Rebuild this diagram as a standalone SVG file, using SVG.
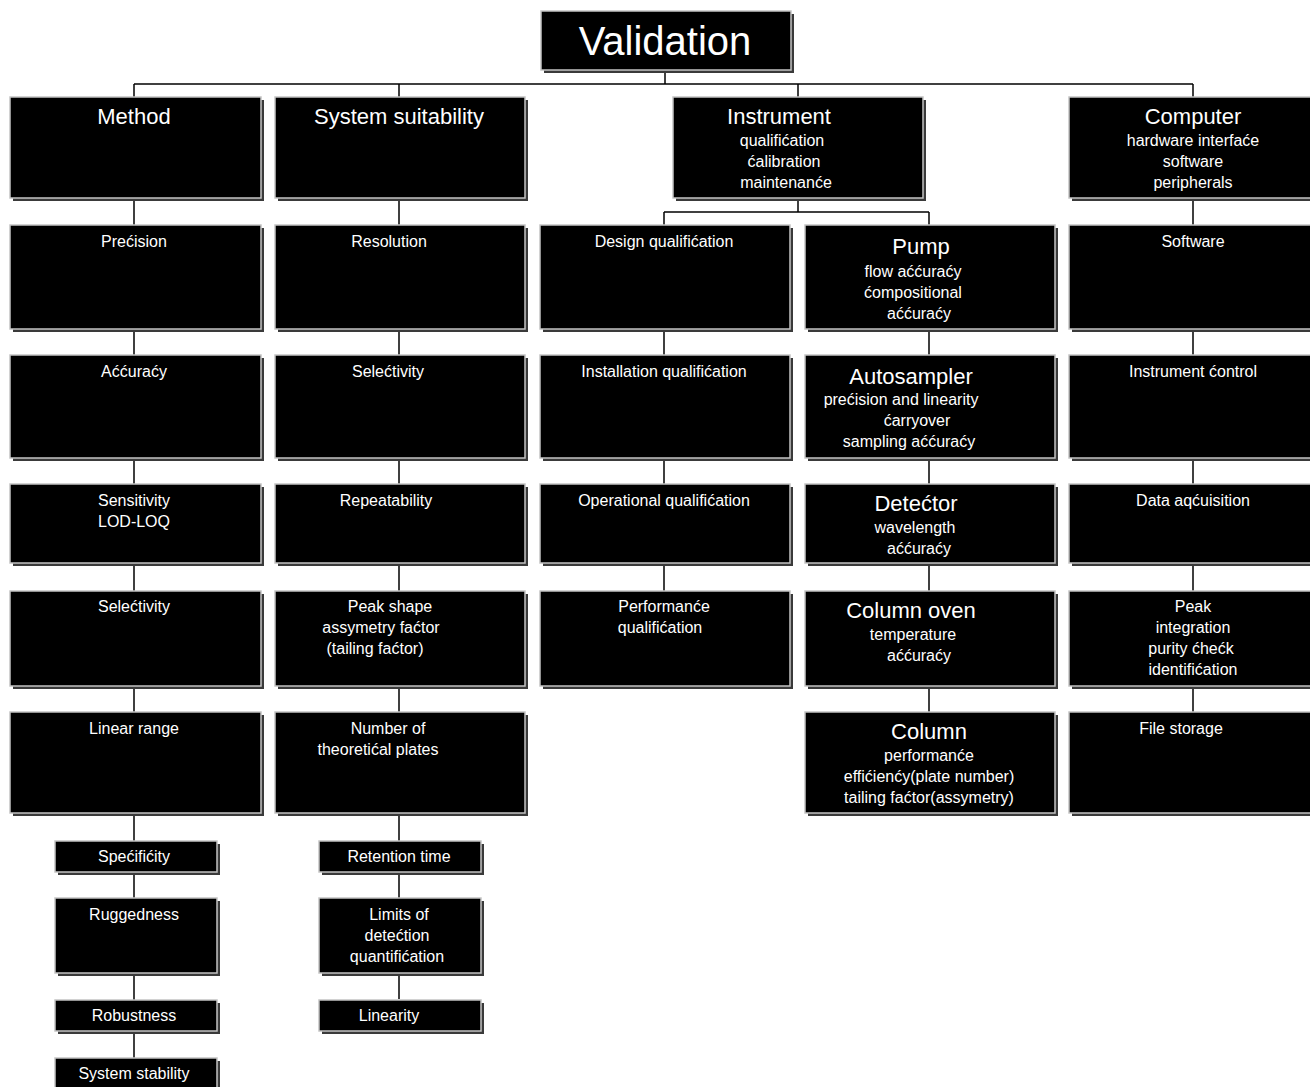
<svg xmlns="http://www.w3.org/2000/svg" width="1310" height="1087" viewBox="0 0 1310 1087">
<style>
.sh{fill:#3a3a3a}
.bx{fill:#000;stroke:#c4c4c4;stroke-width:1.5}
text{font-family:"Liberation Sans",Arial,Helvetica,sans-serif;fill:#fff;text-anchor:middle}
.t{font-size:16px}
.h{font-size:22px}
.v{font-size:40px}
.c line,.c polyline{stroke:#000;stroke-width:1.5;fill:none}
</style>
<rect width="1310" height="1087" fill="#fff"/>
<g class="c" id="connectors">
<line x1="665" y1="70" x2="665" y2="84"/>
<line x1="134" y1="84" x2="1193" y2="84"/>
<line x1="134" y1="84" x2="134" y2="97"/>
<line x1="399" y1="84" x2="399" y2="97"/>
<line x1="798" y1="84" x2="798" y2="97"/>
<line x1="1193" y1="84" x2="1193" y2="97"/>
<line x1="798" y1="198" x2="798" y2="212"/>
<line x1="664" y1="212" x2="929" y2="212"/>
<line x1="664" y1="212" x2="664" y2="225"/>
<line x1="929" y1="212" x2="929" y2="225"/>
<line x1="134" y1="198" x2="134" y2="1058"/>
<line x1="399" y1="198" x2="399" y2="999"/>
<line x1="664" y1="329" x2="664" y2="591"/>
<line x1="929" y1="329" x2="929" y2="712"/>
<line x1="1193" y1="198" x2="1193" y2="712"/>
</g>
<g id="validation"><rect class="sh" x="544" y="14" width="250" height="59"/><rect class="bx" x="541" y="11" width="250" height="59"/><text class="v" x="665" y="55">Validation</text></g>
<g id="method"><rect class="sh" x="13" y="100" width="251" height="101"/><rect class="bx" x="10" y="97" width="251" height="101"/><text class="h" x="134" y="124">Method</text></g>
<g id="system-suitability"><rect class="sh" x="278" y="100" width="250" height="101"/><rect class="bx" x="275" y="97" width="250" height="101"/><text class="h" x="399" y="124">System suitability</text></g>
<g id="instrument"><rect class="sh" x="676" y="100" width="250" height="101"/><rect class="bx" x="673" y="97" width="250" height="101"/><text class="h" x="779" y="124">Instrument</text><text class="t" x="782" y="146">qualifićation</text><text class="t" x="784" y="167">ćalibration</text><text class="t" x="786" y="188">maintenanće</text></g>
<g id="computer"><rect class="sh" x="1072" y="100" width="250" height="101"/><rect class="bx" x="1069" y="97" width="250" height="101"/><text class="h" x="1193" y="124">Computer</text><text class="t" x="1193" y="146">hardware interfaće</text><text class="t" x="1193" y="167">software</text><text class="t" x="1193" y="188">peripherals</text></g>

<g id="precision"><rect class="sh" x="13" y="228" width="251" height="104"/><rect class="bx" x="10" y="225" width="251" height="104"/><text class="t" x="134" y="247">Prećision</text></g>
<g id="accuracy"><rect class="sh" x="13" y="358" width="251" height="103"/><rect class="bx" x="10" y="355" width="251" height="103"/><text class="t" x="134" y="377">Aććuraćy</text></g>
<g id="sensitivity"><rect class="sh" x="13" y="487" width="251" height="79"/><rect class="bx" x="10" y="484" width="251" height="79"/><text class="t" x="134" y="506">Sensitivity</text><text class="t" x="134" y="527">LOD-LOQ</text></g>
<g id="selectivity-m"><rect class="sh" x="13" y="594" width="251" height="95"/><rect class="bx" x="10" y="591" width="251" height="95"/><text class="t" x="134" y="612">Selećtivity</text></g>
<g id="linear-range"><rect class="sh" x="13" y="715" width="251" height="101"/><rect class="bx" x="10" y="712" width="251" height="101"/><text class="t" x="134" y="734">Linear range</text></g>
<g id="specificity"><rect class="sh" x="58" y="844" width="162" height="31"/><rect class="bx" x="55" y="841" width="162" height="31"/><text class="t" x="134" y="862">Spećifićity</text></g>
<g id="ruggedness"><rect class="sh" x="58" y="901" width="162" height="75"/><rect class="bx" x="55" y="898" width="162" height="75"/><text class="t" x="134" y="920">Ruggedness</text></g>
<g id="robustness"><rect class="sh" x="58" y="1003" width="162" height="31"/><rect class="bx" x="55" y="1000" width="162" height="31"/><text class="t" x="134" y="1021">Robustness</text></g>
<g id="system-stability"><rect class="sh" x="58" y="1061" width="162" height="40"/><rect class="bx" x="55" y="1058" width="162" height="40"/><text class="t" x="134" y="1079">System stability</text></g>

<g id="resolution"><rect class="sh" x="278" y="228" width="250" height="104"/><rect class="bx" x="275" y="225" width="250" height="104"/><text class="t" x="389" y="247">Resolution</text></g>
<g id="selectivity-s"><rect class="sh" x="278" y="358" width="250" height="103"/><rect class="bx" x="275" y="355" width="250" height="103"/><text class="t" x="388" y="377">Selećtivity</text></g>
<g id="repeatability"><rect class="sh" x="278" y="487" width="250" height="79"/><rect class="bx" x="275" y="484" width="250" height="79"/><text class="t" x="386" y="506">Repeatability</text></g>
<g id="peak-shape"><rect class="sh" x="278" y="594" width="250" height="95"/><rect class="bx" x="275" y="591" width="250" height="95"/><text class="t" x="390" y="612">Peak shape</text><text class="t" x="381" y="633">assymetry faćtor</text><text class="t" x="375" y="654">(tailing faćtor)</text></g>
<g id="plates"><rect class="sh" x="278" y="715" width="250" height="101"/><rect class="bx" x="275" y="712" width="250" height="101"/><text class="t" x="388" y="734">Number of</text><text class="t" x="378" y="755">theoretićal plates</text></g>
<g id="retention"><rect class="sh" x="322" y="844" width="162" height="31"/><rect class="bx" x="319" y="841" width="162" height="31"/><text class="t" x="399" y="862">Retention time</text></g>
<g id="limits"><rect class="sh" x="322" y="901" width="162" height="75"/><rect class="bx" x="319" y="898" width="162" height="75"/><text class="t" x="399" y="920">Limits of</text><text class="t" x="397" y="941">detećtion</text><text class="t" x="397" y="962">quantifićation</text></g>
<g id="linearity"><rect class="sh" x="322" y="1003" width="162" height="31"/><rect class="bx" x="319" y="1000" width="162" height="31"/><text class="t" x="389" y="1021">Linearity</text></g>

<g id="design-q"><rect class="sh" x="543" y="228" width="250" height="104"/><rect class="bx" x="540" y="225" width="250" height="104"/><text class="t" x="664" y="247">Design qualifićation</text></g>
<g id="installation-q"><rect class="sh" x="543" y="358" width="250" height="103"/><rect class="bx" x="540" y="355" width="250" height="103"/><text class="t" x="664" y="377">Installation qualifićation</text></g>
<g id="operational-q"><rect class="sh" x="543" y="487" width="250" height="79"/><rect class="bx" x="540" y="484" width="250" height="79"/><text class="t" x="664" y="506">Operational qualifićation</text></g>
<g id="performance-q"><rect class="sh" x="543" y="594" width="250" height="95"/><rect class="bx" x="540" y="591" width="250" height="95"/><text class="t" x="664" y="612">Performanće</text><text class="t" x="660" y="633">qualifićation</text></g>

<g id="pump"><rect class="sh" x="808" y="228" width="250" height="104"/><rect class="bx" x="805" y="225" width="250" height="104"/><text class="h" x="921" y="254">Pump</text><text class="t" x="913" y="277">flow aććuraćy</text><text class="t" x="913" y="298">ćompositional</text><text class="t" x="919" y="319">aććuraćy</text></g>
<g id="autosampler"><rect class="sh" x="808" y="358" width="250" height="103"/><rect class="bx" x="805" y="355" width="250" height="103"/><text class="h" x="911" y="384">Autosampler</text><text class="t" x="901" y="405">prećision and linearity</text><text class="t" x="917" y="426">ćarryover</text><text class="t" x="909" y="447">sampling aććuraćy</text></g>
<g id="detector"><rect class="sh" x="808" y="487" width="250" height="79"/><rect class="bx" x="805" y="484" width="250" height="79"/><text class="h" x="916" y="511">Detećtor</text><text class="t" x="915" y="533">wavelength</text><text class="t" x="919" y="554">aććuraćy</text></g>
<g id="column-oven"><rect class="sh" x="808" y="594" width="250" height="95"/><rect class="bx" x="805" y="591" width="250" height="95"/><text class="h" x="911" y="618">Column oven</text><text class="t" x="913" y="640">temperature</text><text class="t" x="919" y="661">aććuraćy</text></g>
<g id="column"><rect class="sh" x="808" y="715" width="250" height="101"/><rect class="bx" x="805" y="712" width="250" height="101"/><text class="h" x="929" y="739">Column</text><text class="t" x="929" y="761">performanće</text><text class="t" x="929" y="782">effićienćy(plate number)</text><text class="t" x="929" y="803">tailing faćtor(assymetry)</text></g>

<g id="software"><rect class="sh" x="1072" y="228" width="250" height="104"/><rect class="bx" x="1069" y="225" width="250" height="104"/><text class="t" x="1193" y="247">Software</text></g>
<g id="instrument-control"><rect class="sh" x="1072" y="358" width="250" height="103"/><rect class="bx" x="1069" y="355" width="250" height="103"/><text class="t" x="1193" y="377">Instrument ćontrol</text></g>
<g id="data-acquisition"><rect class="sh" x="1072" y="487" width="250" height="79"/><rect class="bx" x="1069" y="484" width="250" height="79"/><text class="t" x="1193" y="506">Data aqćuisition</text></g>
<g id="peak"><rect class="sh" x="1072" y="594" width="250" height="95"/><rect class="bx" x="1069" y="591" width="250" height="95"/><text class="t" x="1193" y="612">Peak</text><text class="t" x="1193" y="633">integration</text><text class="t" x="1191" y="654">purity ćhećk</text><text class="t" x="1193" y="675">identifićation</text></g>
<g id="file-storage"><rect class="sh" x="1072" y="715" width="250" height="101"/><rect class="bx" x="1069" y="712" width="250" height="101"/><text class="t" x="1181" y="734">File storage</text></g>
</svg>
